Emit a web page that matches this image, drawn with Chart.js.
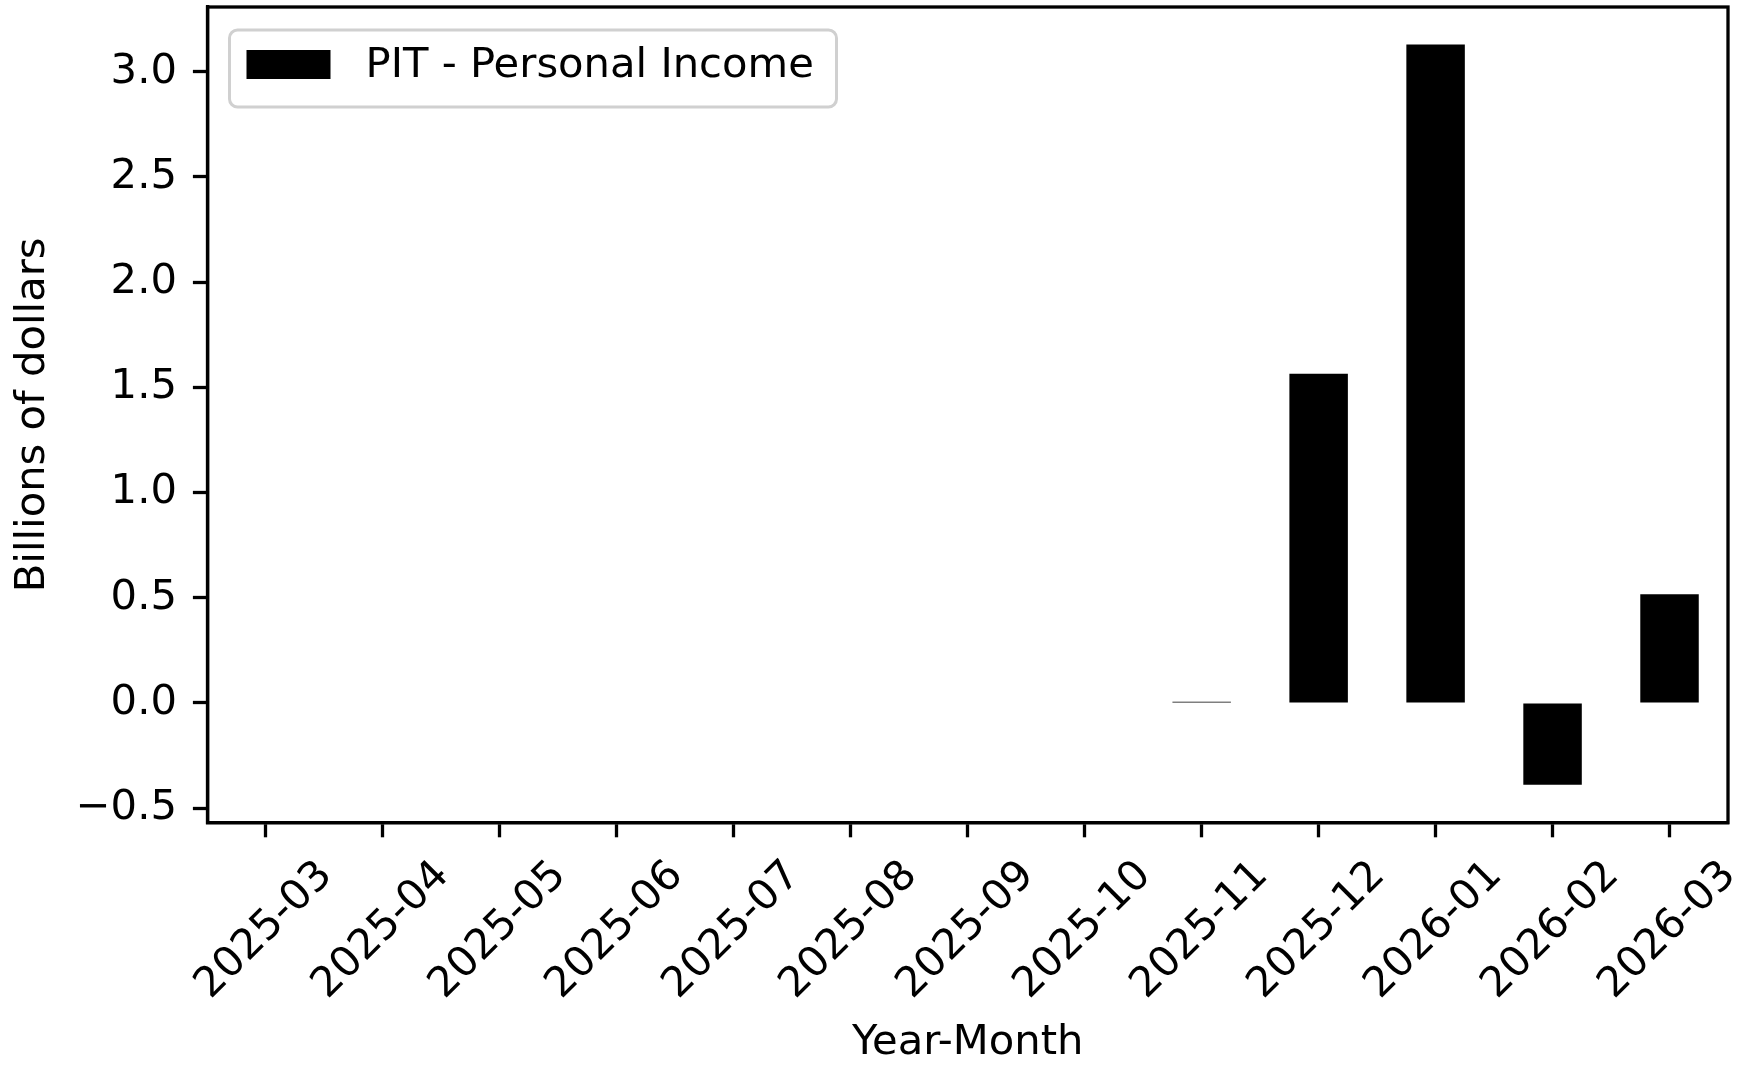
<!DOCTYPE html>
<html>
<head>
<meta charset="utf-8">
<script src="https://cdn.jsdelivr.net/npm/chart.js@4/dist/chart.umd.min.js"></script>
<style>
  html, body { margin: 0; padding: 0; background: #fff; }
  #wrap { width: 1745px; height: 1065px; }
</style>
</head>
<body>
<div id="wrap"><canvas id="pit"></canvas></div>
<script>
// data
const months = ['2025-03', '2025-04', '2025-05', '2025-06', '2025-07', '2025-08', '2025-09',
                '2025-10', '2025-11', '2025-12', '2026-01', '2026-02', '2026-03'];
const pitValues = [0, 0, 0, 0, 0, 0, 0, 0, 0.006, 1.565, 3.13, -0.389, 0.517];
const yTicks = [-0.5, 0.0, 0.5, 1.0, 1.5, 2.0, 2.5, 3.0];
const seriesName = 'PIT - Personal Income';

const FONT = 'DejaVu Sans';
const FS = 41.7;
const LW = 3.3;

// frame on all four sides + matplotlib style legend
const framePlugin = {
  id: 'frame',
  afterDraw(chart) {
    const ctx = chart.ctx;
    const a = chart.chartArea;
    ctx.save();
    ctx.strokeStyle = '#000';
    ctx.lineWidth = LW;
    ctx.strokeRect(a.left, a.top, a.right - a.left, a.bottom - a.top);

    // legend
    const ds = chart.data.datasets[0];
    const x = a.left + 22, y = a.top + 23, w = 607, h = 77, r = 8;
    ctx.beginPath();
    ctx.roundRect(x, y, w, h, r);
    ctx.fillStyle = 'rgba(255,255,255,0.8)';
    ctx.fill();
    ctx.strokeStyle = '#d0d0d0';
    ctx.lineWidth = 3;
    ctx.stroke();
    ctx.fillStyle = ds.backgroundColor;
    ctx.fillRect(x + 17, y + 20, 84, 29);
    ctx.fillStyle = '#000';
    ctx.font = FS + 'px "' + FONT + '"';
    ctx.textBaseline = 'middle';
    ctx.textAlign = 'left';
    ctx.fillText(ds.label, x + 136, y + 36);
    ctx.restore();
  }
};

new Chart(document.getElementById('pit'), {
  type: 'bar',
  data: {
    labels: months,
    datasets: [{
      label: seriesName,
      data: pitValues,
      backgroundColor: '#000',
      borderWidth: 0,
      barPercentage: 0.5,
      categoryPercentage: 1.0
    }]
  },
  options: {
    responsive: true,
    maintainAspectRatio: false,
    animation: false,
    events: [],
    layout: { padding: { left: 0, top: 7, right: 17, bottom: 0 } },
    plugins: {
      legend: { display: false },
      tooltip: { enabled: false }
    },
    scales: {
      x: {
        offset: true,
        grid: {
          offset: false,
          drawOnChartArea: false,
          drawTicks: true,
          tickLength: 14.6,
          tickWidth: LW,
          tickColor: '#000'
        },
        border: { display: true, color: '#000', width: LW },
        ticks: {
          autoSkip: false,
          minRotation: 45,
          maxRotation: 45,
          padding: 14,
          labelOffset: 60,
          color: '#000',
          font: { family: FONT, size: FS }
        },
        title: {
          display: true,
          text: 'Year-Month',
          color: '#000',
          padding: { top: 0, bottom: 0 },
          font: { family: FONT, size: FS, lineHeight: 1.05 }
        },
        afterFit(scale) {
          scale.height = 242.3;
          scale.paddingLeft = 0;
          scale.paddingRight = 0;
        }
      },
      y: {
        min: -0.569,
        max: 3.308,
        grid: {
          drawOnChartArea: false,
          drawTicks: true,
          tickLength: 14.6,
          tickWidth: LW,
          tickColor: '#000'
        },
        border: { display: true, color: '#000', width: LW },
        afterBuildTicks(scale) {
          scale.ticks = yTicks.map(v => ({ value: v }));
        },
        ticks: {
          padding: 16,
          color: '#000',
          font: { family: FONT, size: FS },
          callback: v => (v < 0 ? '\u2212' : '') + Math.abs(v).toFixed(1)
        },
        title: {
          display: true,
          text: 'Billions of dollars',
          color: '#000',
          padding: { top: 8, bottom: 0 },
          font: { family: FONT, size: FS, lineHeight: 1.2 }
        },
        afterFit(scale) {
          scale.width = 207.5;
          scale.paddingTop = 0;
          scale.paddingBottom = 0;
        }
      }
    }
  },
  plugins: [framePlugin]
});
</script>
</body>
</html>
